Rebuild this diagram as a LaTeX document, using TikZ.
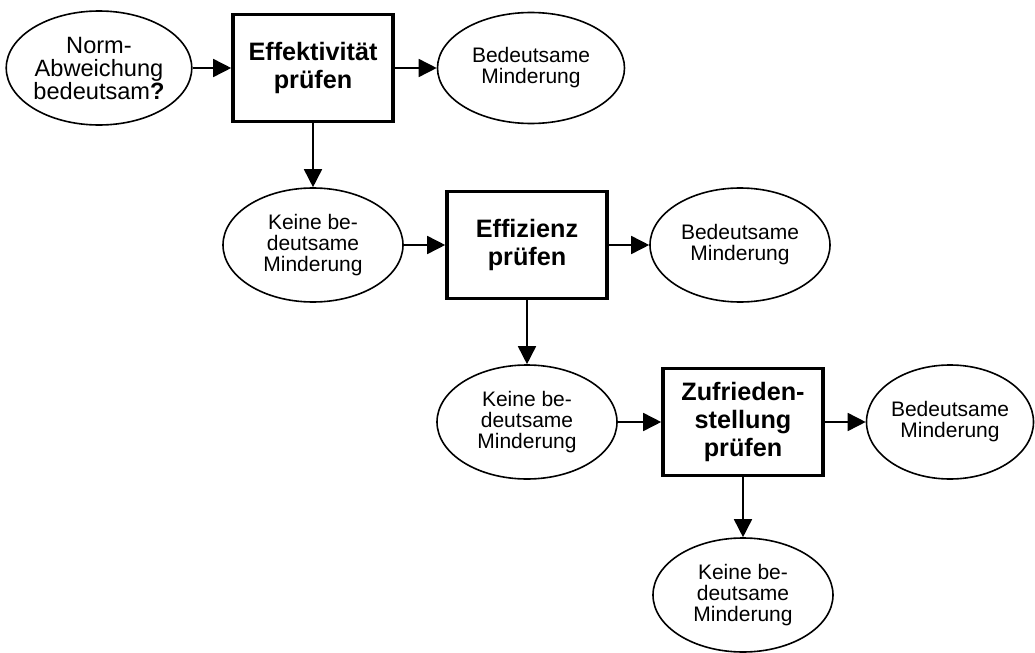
\documentclass[tikz,border=0pt]{standalone}
\usepackage{fontspec}
\setmainfont{Liberation Sans}
\usetikzlibrary{positioning, arrows.meta, shapes.geometric}

\begin{document}
\begin{tikzpicture}[x=0.5pt,y=-0.5pt,
  oval/.style={draw,ellipse,line width=0.8pt,inner sep=0pt,minimum width=90pt,minimum height=57pt,align=center,font=\fontsize{10.5}{10.5}\selectfont},
  checkbox/.style={draw,rectangle,line width=1.8pt,inner sep=0pt,minimum width=80pt,minimum height=53.5pt,align=center,font=\bfseries\fontsize{12.6}{14}\selectfont},
  flow/.style={-{Triangle[length=9pt,width=9pt]},line width=0.8pt}]
\useasboundingbox (0,0) rectangle (1035,653);
% first stage
\node[oval,font=\fontsize{11.8}{11.5}\selectfont] (norm) at (99,68) {Norm-\\Abweichung\\bedeutsam\textbf{?}};
\node[checkbox] (effekt) at (313,68) {Effektivität\\prüfen};
\node[oval,minimum width=93.5pt,minimum height=55.5pt] (ja1) at (531,68) {Bedeutsame\\Minderung};
\node[oval] (nein1) at (313,245) {Keine be-\\deutsame\\Minderung};
% second stage
\node[checkbox] (effiz) at (527,245) {Effizienz\\prüfen};
\node[oval] (ja2) at (740,245) {Bedeutsame\\Minderung};
\node[oval] (nein2) at (527,422) {Keine be-\\deutsame\\Minderung};
% third stage
\node[checkbox] (zufr) at (743,422) {Zufrieden-\\stellung\\prüfen};
\node[oval,minimum width=83.5pt] (ja3) at (950,422) {Bedeutsame\\Minderung};
\node[oval] (nein3) at (743,595) {Keine be-\\deutsame\\Minderung};

\draw[flow] (norm) -- (effekt);
\draw[flow] (effekt) -- (ja1);
\draw[flow] (effekt) -- (nein1);
\draw[flow] (nein1) -- (effiz);
\draw[flow] (effiz) -- (ja2);
\draw[flow] (effiz) -- (nein2);
\draw[flow] (nein2) -- (zufr);
\draw[flow] (zufr) -- (ja3);
\draw[flow] (zufr) -- (nein3);
\end{tikzpicture}
\end{document}
